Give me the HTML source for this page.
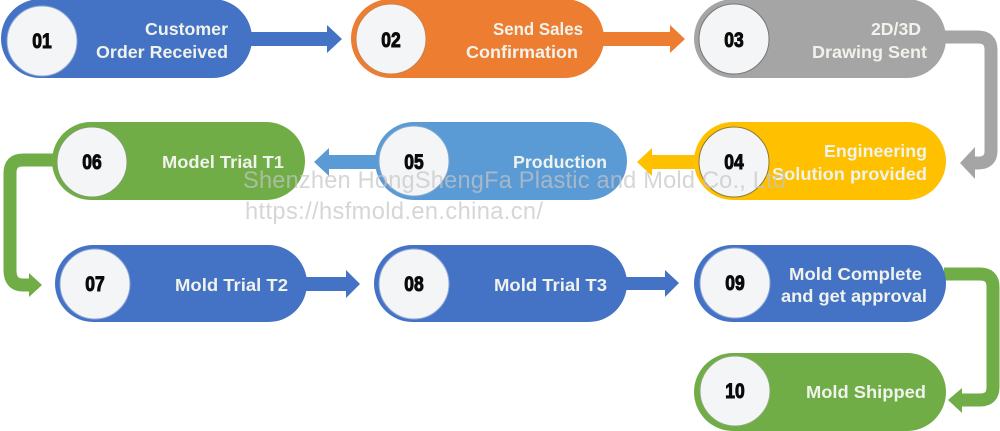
<!DOCTYPE html>
<html><head><meta charset="utf-8"><style>
html,body{margin:0;padding:0;background:#fff;width:1000px;height:431px;overflow:hidden}
svg{display:block;filter:blur(.35px)}
text{font-family:"Liberation Sans",sans-serif}
.l{font-size:17.8px;font-weight:bold;fill:#f0f3ec;text-anchor:end}
.n{font-size:19px;font-weight:bold;fill:#0b0b0b;text-anchor:middle;stroke:#0b0b0b;stroke-width:.9}
.c{fill:#f4f5f6;stroke-width:1}
.w{font-size:23.6px;fill:#c4c4c4;fill-opacity:.7}
</style></head><body>
<svg width="1000" height="431" viewBox="0 0 1000 431" xmlns="http://www.w3.org/2000/svg">
<!-- connectors -->
<path d="M250 32H327V25L342 39L327 53V46H250Z" fill="#4472c4"/>
<path d="M602 32H670V25L685 39L670 53V46H602Z" fill="#ed7d31"/>
<path d="M944 37H978Q991 37 991 50V151Q991 163 978 163H975" fill="none" stroke="#a5a5a5" stroke-width="13"/>
<path d="M960 163L975 147V179Z" fill="#a5a5a5"/>
<path d="M700 155H652V148L637 162L652 176V169H700Z" fill="#ffc000"/>
<path d="M380 155H329V148L314 162L329 176V169H380Z" fill="#5b9bd5"/>
<path d="M60 160H23Q10 160 10 173V270Q10 285 23 285H29" fill="none" stroke="#70ad47" stroke-width="13"/>
<path d="M42 285L29 273V297Z" fill="#70ad47"/>
<path d="M305 277H346V270L360 284L346 298V291H305Z" fill="#4472c4"/>
<path d="M625 277H665V270L679 283L665 297V290H625Z" fill="#4472c4"/>
<path d="M944 274H980Q993 274 993 287V387Q993 400 980 400H962" fill="none" stroke="#70ad47" stroke-width="13"/>
<path d="M948 400L962 388V413Z" fill="#70ad47"/>
<!-- pills -->
<rect x="1" y="-1" width="251" height="79" rx="39.5" fill="#4472c4"/>
<rect x="351" y="-1" width="253" height="79" rx="39.5" fill="#ed7d31"/>
<rect x="694" y="-1" width="252" height="79" rx="39.5" fill="#a5a5a5"/>
<rect x="694" y="122" width="252" height="78" rx="39" fill="#ffc000"/>
<rect x="375" y="122" width="252" height="78" rx="39" fill="#5b9bd5"/>
<rect x="52" y="122" width="253" height="78" rx="39" fill="#70ad47"/>
<rect x="55" y="245" width="252" height="77" rx="38.5" fill="#4472c4"/>
<rect x="374" y="245" width="253" height="77" rx="38.5" fill="#4472c4"/>
<rect x="694" y="245" width="252" height="77" rx="38.5" fill="#4472c4"/>
<rect x="694" y="353" width="252" height="78" rx="39" fill="#70ad47"/>
<!-- circles -->
<circle class="c" cx="42" cy="41" r="35" stroke="#8ea6d6"/>
<circle class="c" cx="391" cy="39" r="35" stroke="#c9824f"/>
<circle class="c" cx="734" cy="39" r="35" stroke="#777"/>
<circle class="c" cx="734" cy="162" r="35" stroke="#8a7a3a"/>
<circle class="c" cx="414" cy="161" r="35" stroke="#7fa8cf"/>
<circle class="c" cx="92" cy="162" r="35" stroke="#7f9f68"/>
<circle class="c" cx="95" cy="284" r="35" stroke="#8ea6d6"/>
<circle class="c" cx="414" cy="284" r="35" stroke="#8ea6d6"/>
<circle class="c" cx="735" cy="283" r="35" stroke="#8ea6d6"/>
<circle class="c" cx="735" cy="391" r="35" stroke="#8aa878"/>
<!-- numbers -->
<text class="n" transform="translate(42 48) scale(.92 1.1)">01</text>
<text class="n" transform="translate(391 47) scale(.92 1.1)">02</text>
<text class="n" transform="translate(734 47) scale(.92 1.1)">03</text>
<text class="n" transform="translate(734 169) scale(.92 1.1)">04</text>
<text class="n" transform="translate(414 169) scale(.92 1.1)">05</text>
<text class="n" transform="translate(92 169) scale(.92 1.1)">06</text>
<text class="n" transform="translate(95 291) scale(.92 1.1)">07</text>
<text class="n" transform="translate(414 291) scale(.92 1.1)">08</text>
<text class="n" transform="translate(735 290) scale(.92 1.1)">09</text>
<text class="n" transform="translate(735 398) scale(.92 1.1)">10</text>
<!-- labels -->
<text class="l" x="228" y="35" textLength="83" lengthAdjust="spacingAndGlyphs">Customer</text>
<text class="l" x="228" y="58" textLength="132" lengthAdjust="spacingAndGlyphs">Order Received</text>
<text class="l" x="583" y="35" textLength="90" lengthAdjust="spacingAndGlyphs">Send Sales</text>
<text class="l" x="578" y="58" textLength="112" lengthAdjust="spacingAndGlyphs">Confirmation</text>
<text class="l" x="921" y="35" textLength="50" lengthAdjust="spacingAndGlyphs">2D/3D</text>
<text class="l" x="927" y="58" textLength="115" lengthAdjust="spacingAndGlyphs">Drawing Sent</text>
<text class="l" x="927" y="157" textLength="103" lengthAdjust="spacingAndGlyphs">Engineering</text>
<text class="l" x="927" y="180" textLength="155" lengthAdjust="spacingAndGlyphs">Solution provided</text>
<text class="l" x="607" y="168" textLength="94" lengthAdjust="spacingAndGlyphs">Production</text>
<text class="l" x="284" y="168" textLength="122" lengthAdjust="spacingAndGlyphs">Model Trial T1</text>
<text class="l" x="288" y="291" textLength="113" lengthAdjust="spacingAndGlyphs">Mold Trial T2</text>
<text class="l" x="607" y="291" textLength="113" lengthAdjust="spacingAndGlyphs">Mold Trial T3</text>
<text class="l" x="922" y="280" textLength="133" lengthAdjust="spacingAndGlyphs">Mold Complete</text>
<text class="l" x="927" y="302" textLength="146" lengthAdjust="spacingAndGlyphs">and get approval</text>
<text class="l" x="926" y="398" textLength="120" lengthAdjust="spacingAndGlyphs">Mold Shipped</text>
<!-- watermark -->
<text class="w" x="243" y="188" textLength="543" lengthAdjust="spacing">Shenzhen HongShengFa Plastic and Mold Co., Ltd</text>
<text class="w" x="245" y="219" textLength="298" lengthAdjust="spacing">https://hsfmold.en.china.cn/</text>
</svg>
</body></html>
